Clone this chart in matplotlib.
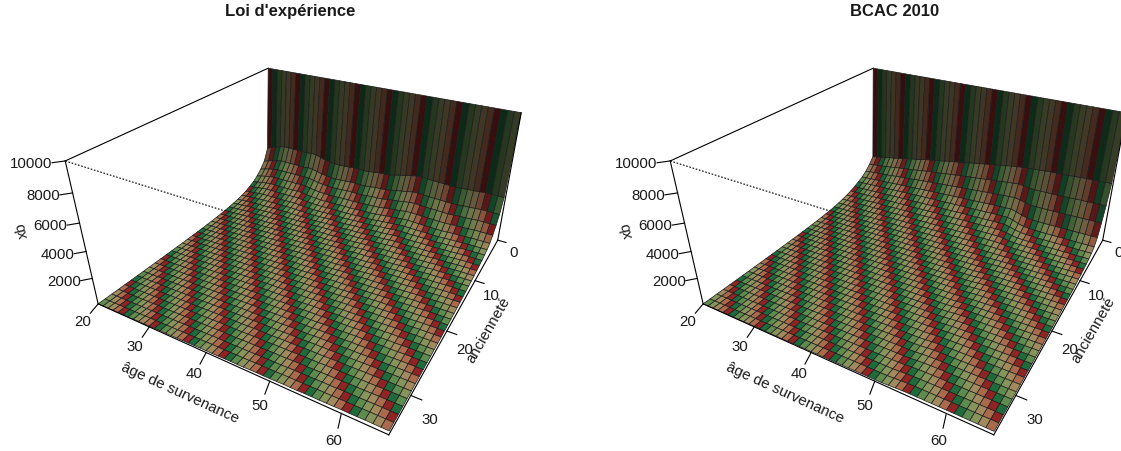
import numpy as np
import matplotlib
matplotlib.use('Agg')
import matplotlib.pyplot as plt
from mpl_toolkits.mplot3d import proj3d

plt.rcParams['font.family'] = ['Liberation Sans', 'DejaVu Sans']

titles = ["Loi d'expérience", 'BCAC 2010']
age_ticks = [20, 30, 40, 50, 60]
anc_ticks = [0, 10, 20, 30]
xb_ticks = [2000, 4000, 6000, 8000, 10000]
ages = np.arange(20, 67)
anc = np.arange(0, 36)

# xb by anciennete, for a young and an old age, read from the walls of the surfaces
xb_young_exp = [10000, 3200, 2200, 1700, 1300, 1000, 800, 620, 500, 400, 330, 270, 220, 180, 150, 120, 100, 85,
                70, 60, 50, 40, 35, 30, 25, 20, 15, 12, 10, 8, 6, 5, 4, 3, 2, 1]
xb_old_exp = [10000, 3900, 2800, 2200, 1700, 1350, 1150, 1050, 950, 880, 820, 770, 720, 680, 640, 600, 570, 540,
              510, 490, 470, 450, 430, 410, 395, 380, 365, 350, 340, 330, 320, 310, 300, 290, 285, 280]
weight_exp = [0, .02, .04, .06, .1, .12, .13, .16, .2, .22, .24, .28, .3, .32, .36, .38, .4, .44, .46, .5, .52,
              .5, .52, .56, .6, .58, .6, .66, .7, .68, .7, .76, .8, .78, .8, .84, .88, .86, .88, .92, .96, .94,
              .96, 1, 1, 1, 1]
# wiggles of the ridge by age, and how far they carry along anciennete
ripple_exp = [0, 140, 280, 380, 450, 430, 400, 380, 350, 310, 360, 280, 140, 0, -100, -170, -210, -220, -210,
              -200, -210, -230, -220, -200, -170, -150, -130, -70, 0, 80, 170, 210, 220, 180, 130, 70, 30,
              0, -30, -40, -20, 0, 20, 30, 15, 0, 0]
ripple_anc = [0, 1, .85, .7, .6, .5, .4, .32, .25, .18, .12, .08, .05, .03, .02, .01, 0, 0,
              0, 0, 0, 0, 0, 0, 0, 0, 0, 0, 0, 0, 0, 0, 0, 0, 0, 0]

xb_young_bcac = [10000, 2400, 1900, 1500, 1200, 1000, 800, 650, 520, 420, 340, 270, 220, 180, 150, 120, 100, 85,
                 70, 60, 50, 40, 35, 30, 25, 20, 15, 12, 10, 8, 6, 5, 4, 3, 2, 1]
xb_old_bcac = [10000, 5000, 3500, 2400, 1500, 1050, 850, 720, 640, 580, 530, 490, 450, 420, 400, 380, 365, 350,
               340, 330, 320, 310, 305, 300, 295, 290, 285, 280, 275, 270, 265, 262, 260, 258, 255, 250]
weight_bcac = [0, .02, .04, .05, .07, .08, .1, .12, .13, .15, .16, .18, .2, .21, .23, .24, .26, .28, .29, .31,
               .32, .34, .36, .37, .39, .4, .42, .44, .45, .47, .48, .5, .6, .75, .85, .9, .92, .93, .94, .95,
               .96, .97, .98, .98, .99, 1, 1]
ripple_bcac = [0, 30, 60, 100, 130, 170, 200, 240, 280, 320, 350, 390, 430, 470, 500, 530, 560, 590, 620, 650,
               680, 710, 740, 770, 800, 830, 860, 880, 910, 940, 960, 980, 740, 380, 150, 60, 30, 10,
               0, 0, 0, 0, 0, 0, 0, 0, 0]

# one colour per diagonal of cells
palette = ['#1f6b3c', '#5e8c4e', '#87955c', '#a08a5e', '#ab6a4c', '#8e2424']


def surface_colours(z):
    colours = np.zeros((len(anc)-1, len(ages)-1, 4))
    for j in range(len(anc)-1):
        for i in range(len(ages)-1):
            base = np.array(matplotlib.colors.to_rgba(palette[(ages[i]-anc[j]-3) % 6]))
            dzdx = (z[j, i+1]+z[j+1, i+1]-z[j, i]-z[j+1, i])/2/10000*0.5*45
            dzdy = (z[j+1, i]+z[j+1, i+1]-z[j, i]-z[j, i+1])/2/10000*0.5*35
            nz = 1/np.sqrt(1+dzdx**2+dzdy**2)
            base[:3] *= 0.33+0.67*nz
            colours[j, i] = base
    return colours


def label(ax, x, y, z, s, rotation=0, ha='center'):
    # text at a 3d position, kept as plain 2d text so it can be rotated
    xs, ys, _ = proj3d.proj_transform(x, y, z, ax.get_proj())
    ax.text2D(xs, ys, s, transform=ax.transData, fontsize=10.8, color='#1a1a1a', rotation=rotation,
              ha=ha, va='center', zorder=4)


def draw_panel(left, title, young, old, weight, ripple):
    ax = fig.add_axes([left/1121, -63.58/452, 600/1121, 600/452], projection='3d')
    ax.set_axis_off()
    ax.computed_zorder = False
    ax.set_xlim(20, 66, view_margin=0)
    ax.set_ylim(35, 0, view_margin=0)
    ax.set_zlim(0, 10000, view_margin=0)
    ax.view_init(elev=29.786, azim=-60.06)
    ax.set_box_aspect((1, 1.0026, .5002), zoom=.7517)
    ax.set_proj_type('persp', focal_length=.1822)

    z = np.outer(young, 1-np.array(weight))+np.outer(old, weight)+np.outer(ripple_anc, ripple)
    X, Y = np.meshgrid(ages, anc)
    ax.plot_surface(X, Y, z, facecolors=surface_colours(z), shade=False, rstride=1, cstride=1,
                    edgecolor='#1c1c1c', linewidth=.5, antialiased=True, zorder=2)

    lk = dict(color='black', lw=.8, zorder=3)
    ax.plot([20, 66], [35, 35], [0, 0], **lk)
    ax.plot([66, 66], [35, 0], [0, 0], **lk)
    ax.plot([20, 20], [35, 35], [0, 10000], **lk)
    ax.plot([20, 20], [35, 0], [10000, 10000], **lk)
    ax.plot([66, 66], [0, 0], [0, 10000], **lk)
    ax.plot([20, 66], [35, 35], [10000, 10000], color='black', lw=.8, ls=(0, (1.5, 1.5)), zorder=1)

    for a in age_ticks:
        ax.plot([a, a+.64], [35, 36.54], [0, 0], **lk)
        label(ax, a+1, 37.8, 0, str(a))
    for y in anc_ticks:
        ax.plot([66, 67.4], [y, y], [0, 0], **lk)
        label(ax, 69.2, y+1.7, 0, str(y))
    for v in xb_ticks:
        ax.plot([20, 19], [35, 35.9], [v, v], **lk)
        label(ax, 19, 35.9, v, str(v), ha='right')
    label(ax, 41.5, 40.2, 0, 'âge de survenance', rotation=-24.5)
    label(ax, 70.9, 17.6, 0, 'ancienneté', rotation=60)
    fig.text((left+16.4)/1121, 1-230/452, 'xb', rotation=103, fontsize=10.8, color='#1a1a1a',
             ha='center', va='center')
    fig.text((left+284.4)/1121, 1-16/452, title, fontsize=12, fontweight='bold', color='#1a1a1a',
             ha='center', va='baseline')
    return ax


fig = plt.figure(figsize=(11.21, 4.52), dpi=100)
draw_panel(5.58, titles[0], xb_young_exp, xb_old_exp, weight_exp, ripple_exp)
draw_panel(610.58, titles[1], xb_young_bcac, xb_old_bcac, weight_bcac, ripple_bcac)
fig.savefig('out.png', dpi=100)
